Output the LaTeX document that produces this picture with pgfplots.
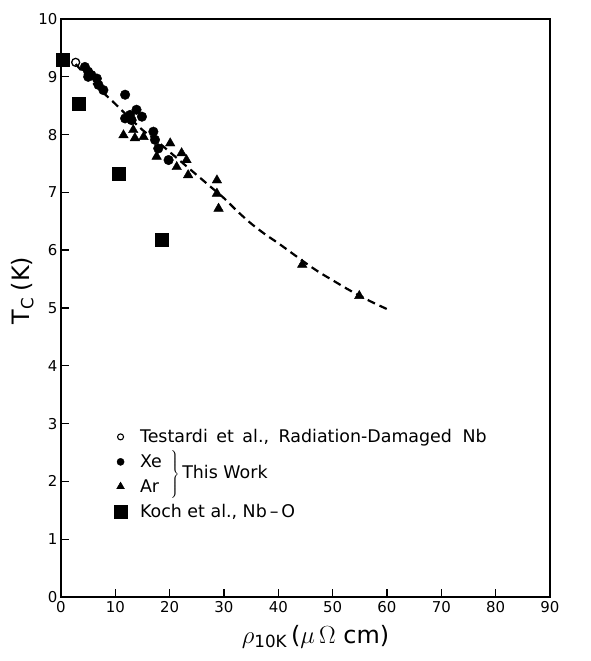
\documentclass[border=0pt]{standalone}
\usepackage{fontspec}
\setmainfont{DejaVu Sans}
\usepackage{pgfplots}
\pgfplotsset{compat=1.18}

\begin{document}
\begin{tikzpicture}
\begin{axis}[
  scale only axis,
  width=489bp, height=578bp,
  xmin=0, xmax=90, ymin=0, ymax=10,
  xtick={0,10,...,90}, ytick={0,1,...,10},
  tick pos=left, tick align=inside,
  major tick length=8bp,
  axis line style={line width=1.6bp},
  every tick/.style={black, line width=1.4bp},
  /pgf/number format/assume math mode=true,
  ticklabel style={font=\fontsize{15}{18}\selectfont},
  xticklabel style={yshift=-1bp},
  xlabel={$\rho_{\mathrm{10K}}$\,($\mu\,\Omega$ cm)},
  ylabel={T\textsubscript{C}\;(K)},
  xlabel style={font=\fontsize{24}{28}\selectfont, xshift=10bp, yshift=-6bp},
  ylabel style={font=\fontsize{24}{28}\selectfont, at={(ticklabel cs:0.53)}, yshift=-2bp},
  legend cell align=left,
  legend style={at={(0.102,0.297)}, anchor=north west, draw=none, fill=none,
    font=\fontsize{17.5}{21}\selectfont, row sep=6.5bp},
]
% Testardi et al. (open circle)
\addplot[only marks, mark=o, mark size=4bp, mark options={line width=1.3bp, fill=white},
  legend image post style={mark size=3bp, mark options={line width=1.1bp}}]
  coordinates {(2.7,9.25)};
\addlegendentry{\hspace{11bp}Testardi\hspace{3bp} et\hspace{3bp} al.,\hspace{4bp} Radiation-Damaged\hspace{5bp} Nb}
% Xe, this work
\addplot[only marks, mark=*, mark size=4.8bp, black,
  legend image post style={mark size=3.6bp}]
  coordinates {
  (4.4,9.17) (5.0,9.09) (5.6,9.03) (5.0,9.0) (6.6,8.97) (6.9,8.86) (7.8,8.77)
  (11.8,8.69) (11.8,8.28) (12.7,8.34) (13.0,8.25) (13.9,8.43) (14.9,8.31)
  (17.0,8.05) (17.3,7.91) (17.9,7.76) (19.8,7.56)
  };
\addlegendentry{\hspace{11bp}Xe}
% Ar, this work
\addplot[only marks, mark=triangle*, mark size=5.5bp, black,
  legend image post style={mark size=4.5bp}]
  coordinates {
  (11.5,7.99) (13.3,8.08) (13.6,7.94) (15.2,7.96) (17.6,7.62) (20.1,7.85)
  (21.3,7.44) (22.2,7.68) (23.1,7.56) (23.4,7.30) (28.7,7.21) (28.7,6.98)
  (29.0,6.72) (44.4,5.75) (54.9,5.21)
  };
\addlegendentry{\hspace{11bp}Ar}
% Koch et al., Nb-O
\addplot[only marks, mark=square*, mark size=6.5bp, black]
  coordinates {(0.4,9.29) (3.2,8.53) (10.7,7.32) (18.6,6.18)};
\addlegendentry{\hspace{11bp}Koch et al., Nb\,--\,O}
% dashed guide curve
\addplot[black, line width=2.2bp, dash pattern=on 8bp off 5bp, smooth, forget plot]
  coordinates {
  (2.7,9.22) (5,8.98) (7.5,8.75) (10,8.53) (12.5,8.30) (15,8.08) (17.5,7.90)
  (20,7.70) (22.5,7.50) (25,7.30) (27.5,7.10) (30,6.90) (32.5,6.67) (35,6.46)
  (37.5,6.28) (40,6.12) (42.5,5.95) (45,5.78) (47.5,5.62) (50,5.48)
  (52.5,5.34) (55,5.21) (57.5,5.09) (60.5,4.96)
  };
\node[anchor=west, font=\fontsize{17.5}{21}\selectfont, inner sep=0pt]
  at (axis cs:19.9,2.12)
  {$\left.\vrule height 19bp depth 19bp width 0pt\right\}$\,This Work};
\end{axis}
\pgfresetboundingbox
\path (current axis.south west) ++(-61bp,-64bp) rectangle ++(591bp,661bp);
\end{tikzpicture}
\end{document}
